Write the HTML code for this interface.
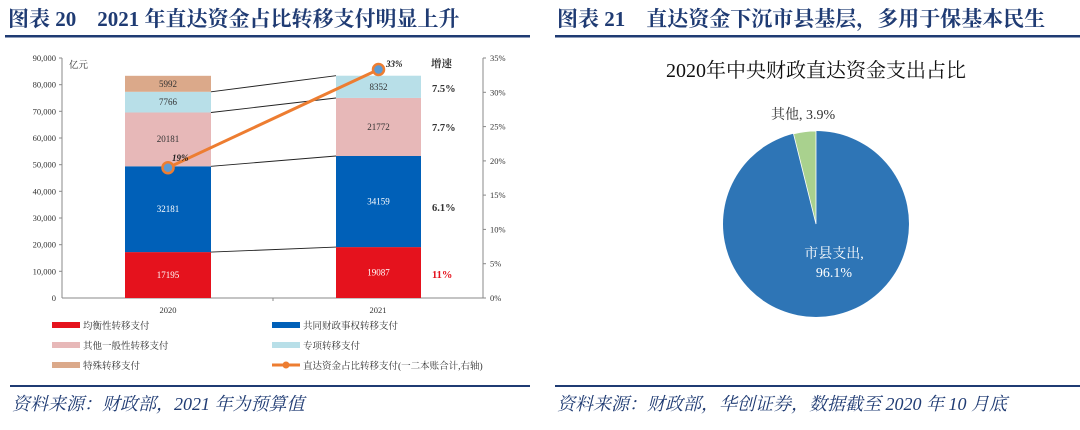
<!DOCTYPE html>
<html><head><meta charset="utf-8"><style>
body{margin:0;width:1080px;height:425px;background:#fff;overflow:hidden;font-family:"Liberation Serif","Noto Serif CJK SC",serif}
</style></head><body>
<svg width="1080" height="425" xmlns="http://www.w3.org/2000/svg" font-family="Liberation Serif, Noto Serif CJK SC, serif">
<text x="8" y="26" font-size="21" font-weight="bold" fill="#1f3b73">图表 20　2021 年直达资金占比转移支付明显上升</text>
<text x="557" y="26" font-size="21" font-weight="bold" fill="#1f3b73">图表 21　直达资金下沉市县基层，多用于保基本民生</text>
<rect x="5" y="35" width="525" height="2.5" fill="#1f3b73"/>
<rect x="555" y="35" width="525" height="2.5" fill="#1f3b73"/>
<!-- axes -->
<g stroke="#888">
<line x1="62" y1="58" x2="62" y2="298"/>
<line x1="62" y1="298" x2="483" y2="298"/>
<line x1="483" y1="58" x2="483" y2="298"/>
<line x1="273" y1="298" x2="273" y2="301"/>
<line x1="59" y1="58" x2="62" y2="58"/><line x1="59" y1="84.7" x2="62" y2="84.7"/><line x1="59" y1="111.3" x2="62" y2="111.3"/><line x1="59" y1="138" x2="62" y2="138"/><line x1="59" y1="164.7" x2="62" y2="164.7"/><line x1="59" y1="191.3" x2="62" y2="191.3"/><line x1="59" y1="218" x2="62" y2="218"/><line x1="59" y1="244.7" x2="62" y2="244.7"/><line x1="59" y1="271.3" x2="62" y2="271.3"/>
<line x1="483" y1="58" x2="486" y2="58"/><line x1="483" y1="92.3" x2="486" y2="92.3"/><line x1="483" y1="126.6" x2="486" y2="126.6"/><line x1="483" y1="160.9" x2="486" y2="160.9"/><line x1="483" y1="195.1" x2="486" y2="195.1"/><line x1="483" y1="229.4" x2="486" y2="229.4"/><line x1="483" y1="263.7" x2="486" y2="263.7"/><line x1="483" y1="298" x2="486" y2="298"/>
</g>
<g font-size="8.5" fill="#333" text-anchor="end">
<text x="56" y="61">90,000</text><text x="56" y="87.7">80,000</text><text x="56" y="114.3">70,000</text><text x="56" y="141">60,000</text><text x="56" y="167.7">50,000</text><text x="56" y="194.3">40,000</text><text x="56" y="221">30,000</text><text x="56" y="247.7">20,000</text><text x="56" y="274.3">10,000</text><text x="56" y="301">0</text>
</g>
<g font-size="8.5" fill="#333">
<text x="490" y="61">35%</text><text x="490" y="95.3">30%</text><text x="490" y="129.6">25%</text><text x="490" y="163.9">20%</text><text x="490" y="198.1">15%</text><text x="490" y="232.4">10%</text><text x="490" y="266.7">5%</text><text x="490" y="301">0%</text>
<text x="69" y="68" font-size="9.5">亿元</text>
<text x="168" y="313" text-anchor="middle">2020</text><text x="378" y="313" text-anchor="middle">2021</text>
</g>
<!-- bars -->
<rect x="125" y="252.1" width="86" height="45.9" fill="#e5121d"/>
<rect x="125" y="166.3" width="86" height="85.8" fill="#0060b8"/>
<rect x="125" y="112.5" width="86" height="53.8" fill="#e7b8b8"/>
<rect x="125" y="91.8" width="86" height="20.7" fill="#b8dfe8"/>
<rect x="125" y="75.8" width="86" height="16" fill="#dba98a"/>
<rect x="336" y="247.1" width="85" height="50.9" fill="#e5121d"/>
<rect x="336" y="156" width="85" height="91.1" fill="#0060b8"/>
<rect x="336" y="97.95" width="85" height="58.05" fill="#e7b8b8"/>
<rect x="336" y="75.7" width="85" height="22.25" fill="#b8dfe8"/>
<g stroke="#222" stroke-width="0.9">
<line x1="211" y1="252.1" x2="336" y2="247.1"/><line x1="211" y1="166.3" x2="336" y2="156"/><line x1="211" y1="112.5" x2="336" y2="98"/><line x1="211" y1="91.8" x2="336" y2="75.7"/>
</g>
<g font-size="9" text-anchor="middle">
<text x="168" y="278" fill="#fff">17195</text><text x="168" y="212" fill="#fff">32181</text><text x="168" y="142" fill="#333">20181</text><text x="168" y="105" fill="#333">7766</text><text x="168" y="87" fill="#333">5992</text>
<text x="378.5" y="275.5" fill="#fff">19087</text><text x="378.5" y="204.5" fill="#fff">34159</text><text x="378.5" y="130" fill="#333">21772</text><text x="378.5" y="90" fill="#333">8352</text>
</g>
<line x1="168" y1="167.7" x2="378.5" y2="69.5" stroke="#ed7d31" stroke-width="3"/>
<circle cx="168" cy="167.7" r="5.5" fill="#5b9bd5" stroke="#ed7d31" stroke-width="2.5"/>
<circle cx="378.5" cy="69.5" r="5.5" fill="#5b9bd5" stroke="#ed7d31" stroke-width="2.5"/>
<g font-size="9" font-weight="bold" font-style="italic" fill="#222"><text x="172" y="161">19%</text><text x="386" y="67">33%</text></g>
<g font-size="10.5" font-weight="bold" fill="#333"><text x="431" y="67">增速</text><text x="432" y="92">7.5%</text><text x="432" y="131">7.7%</text><text x="432" y="211">6.1%</text><text x="432" y="278" fill="#e5121d">11%</text></g>
<!-- legend -->
<g font-size="9.5" fill="#333">
<rect x="52" y="322" width="28" height="6" fill="#e5121d"/><text x="83" y="329">均衡性转移支付</text>
<rect x="272" y="322" width="28" height="6" fill="#0060b8"/><text x="303" y="329">共同财政事权转移支付</text>
<rect x="52" y="342" width="28" height="6" fill="#e7b8b8"/><text x="83" y="349">其他一般性转移支付</text>
<rect x="272" y="342" width="28" height="6" fill="#b8dfe8"/><text x="303" y="349">专项转移支付</text>
<rect x="52" y="362" width="28" height="6" fill="#dba98a"/><text x="83" y="369">特殊转移支付</text>
<line x1="272" y1="365" x2="300" y2="365" stroke="#ed7d31" stroke-width="3"/><circle cx="286" cy="365" r="3.5" fill="#ed7d31"/><text x="303" y="369">直达资金占比转移支付(一二本账合计,右轴)</text>
</g>
<rect x="10" y="385" width="520" height="2" fill="#1f3b73"/>
<rect x="555" y="385" width="525" height="2" fill="#1f3b73"/>
<g font-size="18" font-style="italic" fill="#1f3b73"><text x="12" y="410">资料来源：财政部，2021 年为预算值</text><text x="557" y="410">资料来源：财政部，华创证券，数据截至 2020 年 10 月底</text></g>
<!-- pie -->
<text x="816" y="77" font-size="20" text-anchor="middle" fill="#111">2020年中央财政直达资金支出占比</text>
<circle cx="816" cy="224" r="93" fill="#2e75b6"/>
<path d="M816 224 L816 131 A93 93 0 0 0 793.5 133.8 Z" fill="#a9d18e" stroke="#fff" stroke-width="0.8"/>
<text x="771" y="119" font-size="14" fill="#333">其他, 3.9%</text>
<text x="834" y="258" font-size="14" fill="#fff" text-anchor="middle">市县支出,</text>
<text x="834" y="277" font-size="14" fill="#fff" text-anchor="middle">96.1%</text>
</svg>
</body></html>
